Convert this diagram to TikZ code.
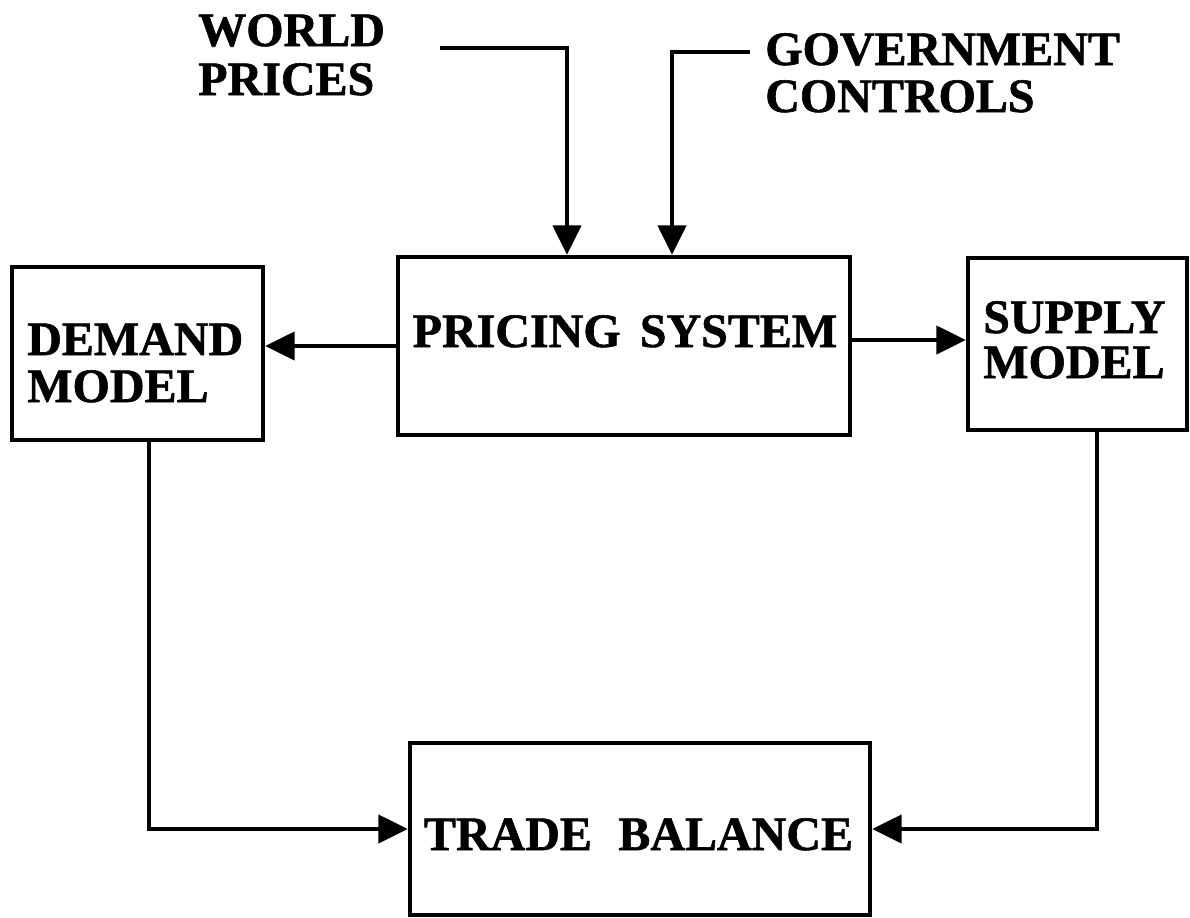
\documentclass[tikz,border=0pt]{standalone}
\usepackage{fontspec}
\setmainfont{Liberation Serif}[BoldFeatures={FakeBold=1.2}]
\usetikzlibrary{arrows.meta,calc}

\begin{document}
\begin{tikzpicture}[
    x=0.75pt, y=-0.75pt,
    box/.style={draw, line width=3.3pt, inner sep=0pt, rectangle},
    lbl/.style={inner sep=0pt, font=\fontsize{36}{40}\selectfont\bfseries},
    arr/.style={line width=2.8pt, -{Triangle[length=22pt,width=21pt]}},
  ]
  \useasboundingbox (0,0) rectangle (1190,918);

  % model boxes
  \node[box, minimum width=251*0.75pt, minimum height=173*0.75pt] (demand)  at (137.5,353.5) {};
  \node[box, minimum width=452*0.75pt, minimum height=178*0.75pt] (pricing) at (624,346) {};
  \node[box, minimum width=219*0.75pt, minimum height=172*0.75pt] (supply)  at (1077.5,344) {};
  \node[box, minimum width=460*0.75pt, minimum height=172*0.75pt] (trade)   at (640,829) {};

  % box texts
  \node[lbl, anchor=base] (pricingtxt) at (625,347) {PRICING\hspace{0.15em} SYSTEM};
  \node[lbl, anchor=base] (tradetxt)   at (638.5,850) {TRADE\hspace{0.3em} BALANCE};
  \node[lbl, anchor=base west] (demandtxt1) at (27,355) {DEMAND};
  \node[lbl, anchor=base west] (demandtxt2) at (27,402) {MODEL};
  \node[lbl, anchor=base west] (supplytxt1) at (983,333) {SUPPLY};
  \node[lbl, anchor=base west] (supplytxt2) at (983,378) {MODEL};

  % outside inputs
  \node[lbl, anchor=base west] (world1) at (198,46) {WORLD};
  \node[lbl, anchor=base west] (world2) at (198,95) {PRICES};
  \node[lbl, anchor=base west] (gov1) at (765,65) {GOVERNMENT};
  \node[lbl, anchor=base west] (gov2) at (765,112) {CONTROLS};

  \coordinate (worldlead) at (440,48);
  \coordinate (govlead)   at (750,52);
  \draw[arr] (worldlead) -| ($(pricing.north)+(-57,0)$);
  \draw[arr] (govlead)   -| ($(pricing.north)+(48,0)$);

  % pricing feeds both models
  \draw[arr] (pricing.west) -- (pricing.west -| demand.east);
  \coordinate (pricingout) at ($(pricing.east)+(0,-6)$);
  \draw[arr] (pricingout) -- (pricingout -| supply.west);

  % both models feed the trade balance
  \draw[arr] ($(demand.south)+(11.5,0)$) |- (trade.west);
  \draw[arr] ($(supply.south)+(19.5,0)$) |- (trade.east);
\end{tikzpicture}
\end{document}
